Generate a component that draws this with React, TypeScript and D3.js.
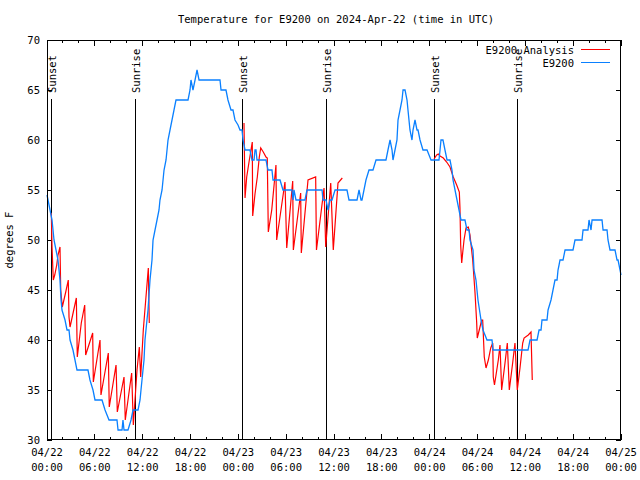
import React from "react";
import * as d3 from "d3";

const TITLE = "Temperature for E9200 on 2024-Apr-22 (time in UTC)";
const Y_LABEL = "degrees F";

const xMajorHours = [0, 6, 12, 18, 24, 30, 36, 42, 48, 54, 60, 66, 72];
const xTickDates = ["04/22", "04/22", "04/22", "04/22", "04/23", "04/23", "04/23", "04/23", "04/24", "04/24", "04/24", "04/24", "04/25"];
const xTickTimes = ["00:00", "06:00", "12:00", "18:00", "00:00", "06:00", "12:00", "18:00", "00:00", "06:00", "12:00", "18:00", "00:00"];
const xMinorHours = d3.range(0, 73, 2);
const yTicks = [30, 35, 40, 45, 50, 55, 60, 65, 70];

const sunHours = [0.53, 11.08, 24.52, 35.03, 48.58, 58.99];
const sunLabels = ["Sunset", "Sunrise", "Sunset", "Sunrise", "Sunset", "Sunrise"];

const legendNames = ["E9200 Analysis", "E9200"];

// Observations (E9200)
const obsHours = [
  0.0, 0.13, 0.38, 0.63, 0.88, 1.13, 1.38, 1.63, 1.76, 1.88, 2.26, 2.51, 2.76, 2.89, 3.26, 3.51, 3.76,
  5.14, 5.39, 5.77, 6.02, 6.9, 7.28, 7.78, 8.78, 8.91, 9.41, 9.53, 9.66, 10.16, 10.54, 10.79, 11.42,
  11.67, 11.79, 12.04, 12.17, 12.29, 12.54, 12.67, 12.92, 13.17, 13.3, 13.55, 13.8, 14.05, 14.17,
  14.43, 14.68, 14.93, 15.18, 15.43, 15.68, 15.93, 16.18, 17.69, 17.94, 18.06, 18.31, 18.57, 18.82,
  19.07, 19.19, 21.7, 21.83, 22.45, 22.7, 23.08, 23.33, 23.58, 23.96, 24.21, 24.46, 24.59, 24.84,
  25.46, 25.71, 25.97, 26.09, 26.22, 26.34, 26.59, 27.47, 27.72, 28.22, 28.35, 29.23, 29.6, 30.73,
  30.86, 30.98, 31.23, 32.36, 32.61, 34.5, 34.62, 35.0, 35.25, 35.5, 35.75, 36.13, 37.63, 37.88,
  38.89, 39.14, 39.39, 39.51, 39.76, 40.01, 40.39, 40.89, 41.27, 42.52, 42.77, 43.03, 43.28, 43.4,
  43.65, 43.9, 44.03, 44.28, 44.53, 44.66, 44.91, 45.16, 45.28, 45.53, 45.78, 45.91, 46.16, 46.41,
  46.54, 46.79, 47.16, 47.67, 47.92, 48.17, 49.17, 49.3, 49.42, 49.67, 49.92, 50.18, 50.55, 50.8,
  50.93, 51.18, 51.43, 51.68, 51.93, 52.43, 52.68, 52.94, 53.06, 53.44, 53.56, 53.81, 54.06, 54.44,
  54.69, 55.19, 55.82, 55.95, 60.34, 60.59, 61.47, 61.72, 61.97, 62.09, 62.72, 62.85, 63.22, 63.47,
  63.72, 63.98, 64.1, 64.23, 64.35, 64.73, 64.98, 65.98, 66.23, 67.11, 67.24, 67.86, 67.99, 68.24,
  68.37, 69.62, 69.75, 70.25, 70.37, 70.62, 71.25, 71.5, 71.63, 71.88, 72.0,
];
const obsTemps = [
  54.5, 54, 53, 52, 50, 49, 48, 46, 44, 43, 42, 41, 41, 40, 39, 38, 37,
  37, 36, 35, 34, 34, 33, 32, 32, 31, 31, 32, 31, 31, 32, 33, 33,
  34, 35, 37, 38, 40, 42, 43, 46, 48, 50, 51, 52, 53, 54,
  55, 57, 58, 60, 61, 62, 63, 64, 64, 65, 66, 65, 66, 67,
  66, 66, 66, 65, 65, 64, 63, 63, 62, 61.5, 61, 61, 60, 59,
  59, 58, 58, 59, 59, 58, 58, 58, 57, 57, 56, 56, 55, 55,
  54, 55, 54, 54, 55, 55, 54, 54, 53, 54, 54, 55, 55, 54,
  54, 55, 54, 54, 55, 56, 57, 57, 58, 58, 59, 60, 59, 58,
  59, 60, 62, 63, 64, 65, 65, 64, 63, 61, 60, 61, 62, 61,
  61, 60, 59, 59, 58.5, 58, 58, 59, 60, 60, 59, 58, 58, 57,
  56, 55, 54, 53, 52, 52, 51, 51, 50, 49, 47, 46, 44, 42,
  41, 40, 40, 39, 39, 40, 40, 41, 41, 42, 42, 43, 44, 45,
  46, 46, 47, 47.5, 48, 48, 49, 49, 50, 50, 51, 51, 52, 51,
  52, 52, 51, 51, 50, 49, 49, 48, 48, 47, 46.5,
];

// Analysis (E9200 Analysis), three night-time segments
const anaHours1 = [0.54, 0.63, 0.79, 0.97, 1.22, 1.38, 1.63, 1.72, 1.92, 2.35, 2.67, 2.76, 2.89, 3.68, 3.8, 4.3, 4.73, 4.85, 5.73, 5.81, 6.65, 6.77, 7.69, 7.81, 8.66, 8.82, 9.66, 9.82, 10.62, 10.83, 11.29, 11.58, 11.75, 12.08, 12.71, 12.83];
const anaTemps1 = [52.7, 49.3, 46, 46.5, 47.5, 48.5, 49.3, 45, 43.3, 44.8, 46, 42.3, 41.3, 44.2, 38.3, 41.7, 43.5, 38.5, 40.7, 35.8, 40, 34.5, 38.7, 33.3, 37.5, 32.8, 36.3, 32, 36.7, 31.5, 37, 39.3, 36.3, 41, 47.2, 41.7];
const anaHours2 = [24.71, 24.84, 25.05, 25.38, 25.75, 25.8, 26.09, 26.38, 26.63, 26.81, 27.13, 27.47, 27.63, 27.76, 28.19, 28.72, 28.81, 29.85, 30.07, 30.82, 30.9, 31.82, 31.9, 32.74, 33.7, 33.8, 34.75, 34.96, 35.59, 35.91, 36.5, 37.04];
const anaTemps2 = [61.7, 54.2, 56.3, 58, 59.8, 52.4, 54.6, 56.3, 58.3, 59.2, 58.8, 58.3, 58.2, 50.8, 53, 57.5, 50, 55.8, 49.2, 55.9, 49, 54.7, 48.7, 56, 56.3, 49, 55.2, 49.3, 55.7, 49, 55.7, 56.2];
const anaHours3 = [48.55, 48.88, 49.08, 49.3, 49.71, 50.13, 50.55, 50.96, 51.39, 51.72, 51.8, 51.89, 52.02, 52.14, 52.31, 52.56, 52.85, 53.06, 53.4, 53.69, 53.9, 53.97, 54.22, 54.52, 54.65, 54.85, 55.07, 55.36, 55.66, 55.91, 55.98, 56.13, 56.61, 56.82, 57.03, 57.45, 57.74, 57.99, 58.41, 58.7, 58.99, 59.33, 59.67, 59.84, 60.37, 60.71, 60.87];
const anaTemps3 = [58.1, 58.5, 58.6, 58.4, 58.2, 57.8, 57.3, 56.3, 55.5, 54.8, 53.2, 49.5, 47.7, 48.7, 50, 51.2, 51.3, 50.5, 48, 44.7, 41.7, 40.2, 41, 42, 42, 38.3, 37.2, 38, 39.2, 39.7, 36.3, 35.5, 38, 39.5, 35, 37.7, 39.7, 35, 37.7, 39.7, 35, 37.2, 39.7, 40.2, 40.5, 40.8, 36];

const W = 640;
const H = 480;
const M = { left: 47, right: 621, top: 40, bottom: 440 };
const FONT = "'DejaVu Sans Mono', 'Liberation Mono', monospace";
const RED = "#ff0000";
const BLUE = "#0a80ff";

export default function App() {
  const x = d3.scaleLinear().domain([0, 72]).range([M.left, M.right]);
  const y = d3.scaleLinear().domain([30, 70]).range([M.bottom, M.top]);
  const line = d3
    .line<[number, number]>()
    .x((d) => x(d[0]))
    .y((d) => y(d[1]));

  const obs = obsHours.map((h, i) => [h, obsTemps[i]] as [number, number]);
  const ana = [
    anaHours1.map((h, i) => [h, anaTemps1[i]] as [number, number]),
    anaHours2.map((h, i) => [h, anaTemps2[i]] as [number, number]),
    anaHours3.map((h, i) => [h, anaTemps3[i]] as [number, number]),
  ];

  return (
    <svg
      width={W}
      height={H}
      style={{ position: "absolute", left: 0, top: 0, background: "#fff" }}
      fontFamily={FONT}
      fontSize={10}
    >
      <rect x={0} y={0} width={W} height={H} fill="#fff" />
      <text x={336} y={23} textAnchor="middle" fontSize={10.5}>
        {TITLE}
      </text>
      <text transform={`translate(13,240) rotate(-90)`} textAnchor="middle" fontSize={10.5}>
        {Y_LABEL}
      </text>

      {/* y ticks */}
      {yTicks.map((t) => (
        <g key={"y" + t}>
          <line x1={M.left} x2={M.left + 5} y1={y(t)} y2={y(t)} stroke="#000" shapeRendering="crispEdges" />
          <line x1={M.right - 5} x2={M.right} y1={y(t)} y2={y(t)} stroke="#000" shapeRendering="crispEdges" />
          <text x={40} y={y(t) + 4} textAnchor="end" fontSize={10.5}>
            {t}
          </text>
        </g>
      ))}

      {/* x ticks */}
      {xMinorHours.map((h) => (
        <g key={"xm" + h}>
          <line x1={x(h)} x2={x(h)} y1={M.bottom} y2={M.bottom - 3} stroke="#000" shapeRendering="crispEdges" />
          <line x1={x(h)} x2={x(h)} y1={M.top} y2={M.top + 3} stroke="#000" shapeRendering="crispEdges" />
        </g>
      ))}
      {xMajorHours.map((h, i) => (
        <g key={"xM" + h}>
          <line x1={x(h)} x2={x(h)} y1={M.bottom} y2={M.bottom - 6} stroke="#000" shapeRendering="crispEdges" />
          <line x1={x(h)} x2={x(h)} y1={M.top} y2={M.top + 6} stroke="#000" shapeRendering="crispEdges" />
          <text x={x(h)} y={456} textAnchor="middle" fontSize={10.5}>
            {xTickDates[i]}
          </text>
          <text x={x(h)} y={471} textAnchor="middle" fontSize={10.5}>
            {xTickTimes[i]}
          </text>
        </g>
      ))}

      {/* sunrise / sunset */}
      {sunHours.map((h, i) => (
        <g key={"s" + i}>
          <line
            x1={Math.round(x(h)) + 0.5}
            x2={Math.round(x(h)) + 0.5}
            y1={99}
            y2={M.bottom}
            stroke="#000"
            strokeWidth={1}
          />
          <text
            transform={`translate(${Math.round(x(h)) + 4.5},93) rotate(-90)`}
            textAnchor="start"
            fontSize={10.5}
          >
            {sunLabels[i]}
          </text>
        </g>
      ))}

      {/* series */}
      {ana.map((seg, i) => (
        <path key={"a" + i} d={line(seg) || ""} fill="none" stroke={RED} strokeWidth={1.2} />
      ))}
      <path d={line(obs) || ""} fill="none" stroke={BLUE} strokeWidth={1.3} />

      {/* legend */}
      <text x={574} y={54} textAnchor="end" fontSize={10.5}>
        {legendNames[0]}
      </text>
      <line x1={581} x2={610} y1={49.5} y2={49.5} stroke={RED} />
      <text x={574} y={67} textAnchor="end" fontSize={10.5}>
        {legendNames[1]}
      </text>
      <line x1={581} x2={610} y1={62.5} y2={62.5} stroke={BLUE} />

      {/* frame */}
      <rect
        x={M.left + 0.5}
        y={M.top + 0.5}
        width={M.right - M.left - 1}
        height={M.bottom - M.top - 1}
        fill="none"
        stroke="#000"
      />
    </svg>
  );
}
